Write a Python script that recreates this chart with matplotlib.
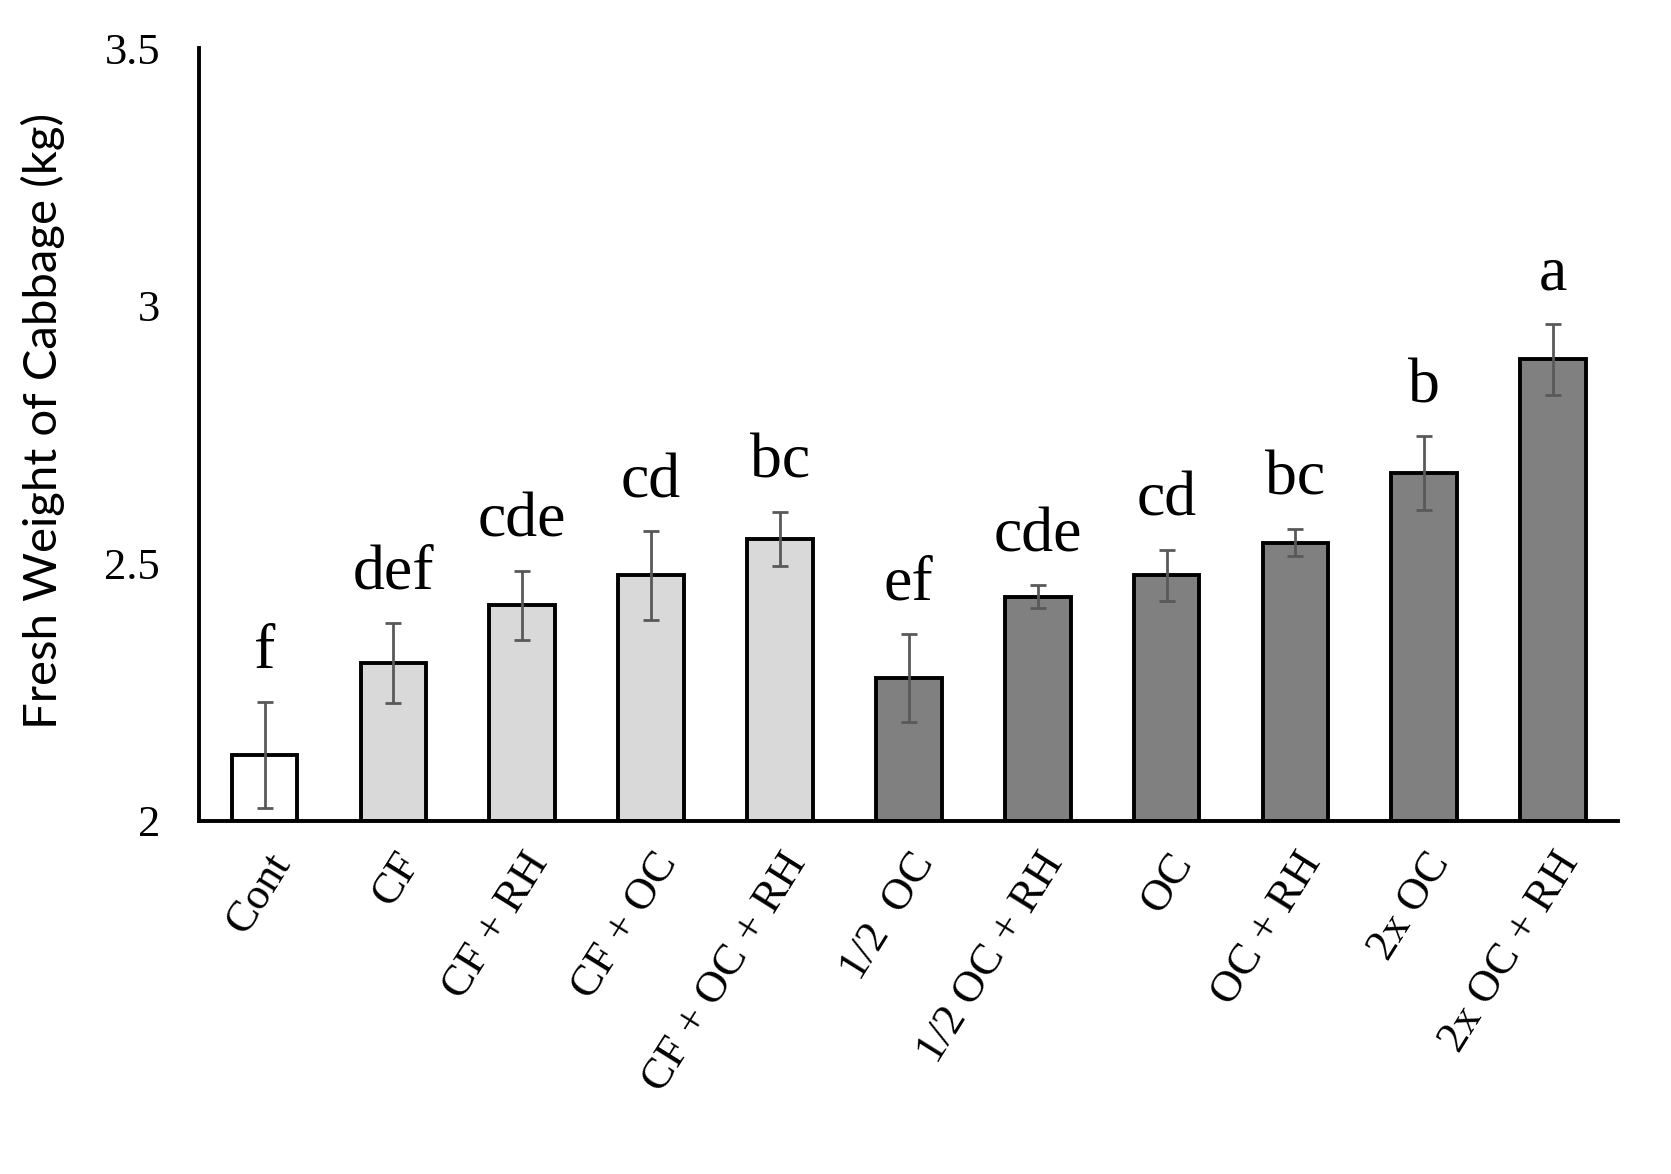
import matplotlib
matplotlib.use("Agg")
import matplotlib.pyplot as plt

# data
treatments = ["Cont", "CF", "CF + RH", "CF + OC", "CF + OC + RH",
              "1/2  OC", "1/2 OC + RH", "OC", "OC + RH", "2x OC", "2x OC + RH"]
weights = [2.128, 2.306, 2.418, 2.476, 2.547, 2.277, 2.435, 2.476, 2.540, 2.675, 2.896]
errors = [0.103, 0.078, 0.067, 0.086, 0.053, 0.086, 0.022, 0.050, 0.027, 0.071, 0.069]
letters = ["f", "def", "cde", "cd", "bc", "ef", "cde", "cd", "bc", "b", "a"]
groups = ["cont", "cf", "cf", "cf", "cf", "oc", "oc", "oc", "oc", "oc", "oc"]

colors = {"cont": "white", "cf": "#d9d9d9", "oc": "#808080"}
serif = "Liberation Serif"

fig = plt.figure(figsize=(16.71, 11.74), dpi=100)
ax = fig.add_axes([0.119, 0.301, 0.849, 0.658])

x = range(len(treatments))
ax.bar(x, [w - 2 for w in weights], bottom=2, width=0.51,
       color=[colors[g] for g in groups], edgecolor="black", linewidth=2.8, zorder=2)
ax.errorbar(x, weights, yerr=errors, fmt="none", ecolor="#595959",
            elinewidth=2, capsize=5.5, capthick=2, zorder=3)

# significance letters
for i, (w, e, l) in enumerate(zip(weights, errors, letters)):
    ax.text(i, w + e + 0.066, l, ha="center", va="baseline",
            fontsize=46, family=serif)

ax.set_xlim(-0.51, 10.5)
ax.set_ylim(2, 3.5)
ax.set_yticks([2, 2.5, 3, 3.5])
ax.set_yticklabels(["2", "2.5", "3", "3.5"], family=serif, fontsize=32)
ax.set_xticks(list(x))
ax.set_xticklabels(treatments, rotation=58, ha="right", rotation_mode="anchor",
                   family=serif, fontsize=32)
ax.tick_params(axis="y", length=0, pad=28)
ax.tick_params(axis="x", length=0, pad=18)

for s in ["top", "right"]:
    ax.spines[s].set_visible(False)
for s in ["left", "bottom"]:
    ax.spines[s].set_linewidth(2.8)

ax.set_ylabel("Fresh Weight of Cabbage (kg)", family="Lato", fontsize=34)
ax.yaxis.set_label_coords(-0.094, 0.517)

fig.savefig("out.png", dpi=100)
